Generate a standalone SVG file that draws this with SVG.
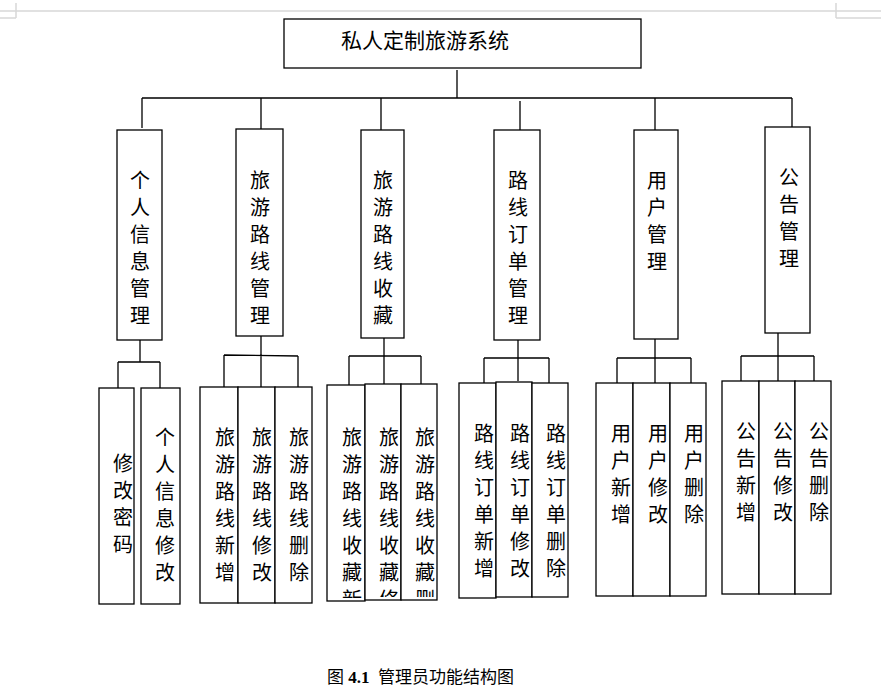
<svg xmlns="http://www.w3.org/2000/svg" width="881" height="699" viewBox="0 0 881 699">
<style>
.b{fill:#fff;stroke:#000;stroke-width:1.3}
.c{stroke:#000;stroke-width:1.3;fill:none}
.t{font-family:"Noto Sans CJK SC","Noto Sans CJK JP",sans-serif;font-size:20px;fill:#000;text-anchor:middle}
.g{stroke:#d8d8d8;stroke-width:1.5;fill:none}
</style>
<defs>
<clipPath id="k1"><rect x="327" y="385" width="38" height="213"/></clipPath>
<clipPath id="k2"><rect x="365" y="384" width="36" height="213"/></clipPath>
<clipPath id="k3"><rect x="401" y="384" width="36" height="213"/></clipPath>
</defs>
<g class="g"><path d="M0 11H881M0 18H16M16 3V18M881 18H836M836 3V18"/></g>
<g id="connectors" class="c">
<path d="M457 70V98M142 98H792M142 98V128M261 98V129M381 98V130M520 101V130M655 98V130M792 98V127"/>
<path d="M140 340V362M118 362H160M118 362V388M160 362V388"/>
<path d="M261 336V355M224 355L298 356M224 355V387M261 355V387M298 356V387"/>
<path d="M384 338V356M349 356H421M349 356V385M384 356V384M421 356V384"/>
<path d="M518 340V358M484 358H549M484 358V383M518 358V381M549 358V383"/>
<path d="M655 339V358M617 358H691M617 358V383M655 358V383M691 358V383"/>
<path d="M778 333V356M741 356H814M741 356V381M778 356V381M814 356V381"/>
</g>
<g id="root"><rect class="b" x="284" y="19" width="357" height="49"/><text class="t" x="425" y="48" style="font-size:21px">私人定制旅游系统</text></g>
<g id="m1"><rect class="b" x="117" y="130" width="45" height="210"/><text class="t" x="140" y="188"><tspan x="140">个</tspan><tspan x="140" dy="27">人</tspan><tspan x="140" dy="27">信</tspan><tspan x="140" dy="27">息</tspan><tspan x="140" dy="27">管</tspan><tspan x="140" dy="27">理</tspan></text></g>
<g id="m2"><rect class="b" x="236" y="129" width="47" height="207"/><text class="t" x="260" y="188"><tspan x="260">旅</tspan><tspan x="260" dy="27">游</tspan><tspan x="260" dy="27">路</tspan><tspan x="260" dy="27">线</tspan><tspan x="260" dy="27">管</tspan><tspan x="260" dy="27">理</tspan></text></g>
<g id="m3"><rect class="b" x="361" y="130" width="43" height="208"/><text class="t" x="383" y="188"><tspan x="383">旅</tspan><tspan x="383" dy="27">游</tspan><tspan x="383" dy="27">路</tspan><tspan x="383" dy="27">线</tspan><tspan x="383" dy="27">收</tspan><tspan x="383" dy="27">藏</tspan></text></g>
<g id="m4"><rect class="b" x="494" y="130" width="46" height="210"/><text class="t" x="518" y="188"><tspan x="518">路</tspan><tspan x="518" dy="27">线</tspan><tspan x="518" dy="27">订</tspan><tspan x="518" dy="27">单</tspan><tspan x="518" dy="27">管</tspan><tspan x="518" dy="27">理</tspan></text></g>
<g id="m5"><rect class="b" x="634" y="130" width="44" height="209"/><text class="t" x="657" y="188"><tspan x="657">用</tspan><tspan x="657" dy="27">户</tspan><tspan x="657" dy="27">管</tspan><tspan x="657" dy="27">理</tspan></text></g>
<g id="m6"><rect class="b" x="765" y="127" width="45" height="206"/><text class="t" x="789" y="185"><tspan x="789">公</tspan><tspan x="789" dy="27">告</tspan><tspan x="789" dy="27">管</tspan><tspan x="789" dy="27">理</tspan></text></g>
<g id="l1a"><rect class="b" x="99" y="388" width="35" height="216"/><text class="t" x="123" y="471"><tspan x="123">修</tspan><tspan x="123" dy="27">改</tspan><tspan x="123" dy="27">密</tspan><tspan x="123" dy="27">码</tspan></text></g>
<g id="l1b"><rect class="b" x="141" y="388" width="39" height="216"/><text class="t" x="165" y="445"><tspan x="165">个</tspan><tspan x="165" dy="27">人</tspan><tspan x="165" dy="27">信</tspan><tspan x="165" dy="27">息</tspan><tspan x="165" dy="27">修</tspan><tspan x="165" dy="27">改</tspan></text></g>
<g id="l2a"><rect class="b" x="200" y="387" width="38" height="216"/><text class="t" x="225" y="445"><tspan x="225">旅</tspan><tspan x="225" dy="27">游</tspan><tspan x="225" dy="27">路</tspan><tspan x="225" dy="27">线</tspan><tspan x="225" dy="27">新</tspan><tspan x="225" dy="27">增</tspan></text></g>
<g id="l2b"><rect class="b" x="238" y="387" width="37" height="216"/><text class="t" x="262" y="445"><tspan x="262">旅</tspan><tspan x="262" dy="27">游</tspan><tspan x="262" dy="27">路</tspan><tspan x="262" dy="27">线</tspan><tspan x="262" dy="27">修</tspan><tspan x="262" dy="27">改</tspan></text></g>
<g id="l2c"><rect class="b" x="275" y="387" width="37" height="216"/><text class="t" x="299" y="445"><tspan x="299">旅</tspan><tspan x="299" dy="27">游</tspan><tspan x="299" dy="27">路</tspan><tspan x="299" dy="27">线</tspan><tspan x="299" dy="27">删</tspan><tspan x="299" dy="27">除</tspan></text></g>
<g id="l3a"><rect class="b" x="327" y="385" width="38" height="216"/><text class="t" x="352" y="445" clip-path="url(#k1)"><tspan x="352">旅</tspan><tspan x="352" dy="27">游</tspan><tspan x="352" dy="27">路</tspan><tspan x="352" dy="27">线</tspan><tspan x="352" dy="27">收</tspan><tspan x="352" dy="27">藏</tspan><tspan x="352" dy="27">新</tspan></text></g>
<g id="l3b"><rect class="b" x="365" y="384" width="36" height="216"/><text class="t" x="389" y="445" clip-path="url(#k2)"><tspan x="389">旅</tspan><tspan x="389" dy="27">游</tspan><tspan x="389" dy="27">路</tspan><tspan x="389" dy="27">线</tspan><tspan x="389" dy="27">收</tspan><tspan x="389" dy="27">藏</tspan><tspan x="389" dy="27">修</tspan></text></g>
<g id="l3c"><rect class="b" x="401" y="384" width="36" height="216"/><text class="t" x="425" y="445" clip-path="url(#k3)"><tspan x="425">旅</tspan><tspan x="425" dy="27">游</tspan><tspan x="425" dy="27">路</tspan><tspan x="425" dy="27">线</tspan><tspan x="425" dy="27">收</tspan><tspan x="425" dy="27">藏</tspan><tspan x="425" dy="27">删</tspan></text></g>
<g id="l4a"><rect class="b" x="459" y="383" width="37" height="215"/><text class="t" x="484" y="441"><tspan x="484">路</tspan><tspan x="484" dy="27">线</tspan><tspan x="484" dy="27">订</tspan><tspan x="484" dy="27">单</tspan><tspan x="484" dy="27">新</tspan><tspan x="484" dy="27">增</tspan></text></g>
<g id="l4b"><rect class="b" x="496" y="382" width="36" height="215"/><text class="t" x="520" y="441"><tspan x="520">路</tspan><tspan x="520" dy="27">线</tspan><tspan x="520" dy="27">订</tspan><tspan x="520" dy="27">单</tspan><tspan x="520" dy="27">修</tspan><tspan x="520" dy="27">改</tspan></text></g>
<g id="l4c"><rect class="b" x="532" y="383" width="36" height="214"/><text class="t" x="556" y="441"><tspan x="556">路</tspan><tspan x="556" dy="27">线</tspan><tspan x="556" dy="27">订</tspan><tspan x="556" dy="27">单</tspan><tspan x="556" dy="27">删</tspan><tspan x="556" dy="27">除</tspan></text></g>
<g id="l5a"><rect class="b" x="596" y="383" width="37" height="213"/><text class="t" x="621" y="441"><tspan x="621">用</tspan><tspan x="621" dy="27">户</tspan><tspan x="621" dy="27">新</tspan><tspan x="621" dy="27">增</tspan></text></g>
<g id="l5b"><rect class="b" x="633" y="383" width="37" height="213"/><text class="t" x="658" y="441"><tspan x="658">用</tspan><tspan x="658" dy="27">户</tspan><tspan x="658" dy="27">修</tspan><tspan x="658" dy="27">改</tspan></text></g>
<g id="l5c"><rect class="b" x="670" y="383" width="36" height="213"/><text class="t" x="694" y="441"><tspan x="694">用</tspan><tspan x="694" dy="27">户</tspan><tspan x="694" dy="27">删</tspan><tspan x="694" dy="27">除</tspan></text></g>
<g id="l6a"><rect class="b" x="722" y="381" width="37" height="213"/><text class="t" x="746" y="439"><tspan x="746">公</tspan><tspan x="746" dy="27">告</tspan><tspan x="746" dy="27">新</tspan><tspan x="746" dy="27">增</tspan></text></g>
<g id="l6b"><rect class="b" x="759" y="381" width="36" height="213"/><text class="t" x="783" y="439"><tspan x="783">公</tspan><tspan x="783" dy="27">告</tspan><tspan x="783" dy="27">修</tspan><tspan x="783" dy="27">改</tspan></text></g>
<g id="l6c"><rect class="b" x="795" y="381" width="36" height="213"/><text class="t" x="819" y="439"><tspan x="819">公</tspan><tspan x="819" dy="27">告</tspan><tspan x="819" dy="27">删</tspan><tspan x="819" dy="27">除</tspan></text></g>
<text x="327" y="683" xml:space="preserve" style="font-family:'Liberation Serif','Noto Sans CJK SC',serif;font-size:17px;white-space:pre">图 <tspan font-weight="bold">4.1</tspan>  管理员功能结构图</text>
</svg>
